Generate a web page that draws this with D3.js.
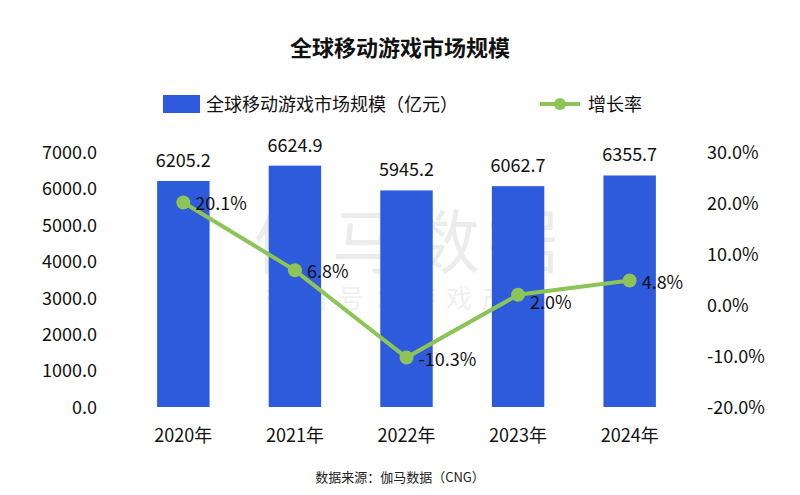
<!DOCTYPE html>
<html><head><meta charset="utf-8">
<script src="https://cdn.jsdelivr.net/npm/d3@7"></script>
<style>body{margin:0;background:#fff}text{font-family:"Noto Sans CJK SC","Noto Sans",sans-serif}</style>
</head><body><svg id="c" width="800" height="495"></svg>
<script>
// chart data
var years = ["2020年", "2021年", "2022年", "2023年", "2024年"];
var market = [6205.2, 6624.9, 5945.2, 6062.7, 6355.7];
var growth = [20.1, 6.8, -10.3, 2.0, 4.8];
var leftTicks = [0, 1000, 2000, 3000, 4000, 5000, 6000, 7000];
var rightTicks = [-20, -10, 0, 10, 20, 30];

var svg = d3.select("#c");
var blue = "#2e5bdc", green = "#8dc456";

var x = d3.scaleBand().domain(years).range([127, 686]).paddingInner(0.53).paddingOuter(0.27);
var yL = d3.scaleLinear().domain([0, 7000]).range([407, 152]);
var yR = d3.scaleLinear().domain([-20, 30]).range([407, 152]);

svg.append("text").attr("x", 400).attr("y", 56).attr("text-anchor", "middle")
    .attr("font-size", 22).attr("font-weight", "bold").attr("fill", "#111").text("全球移动游戏市场规模");

// watermark
svg.append("text").attr("x", 410).attr("y", 268).attr("text-anchor", "middle")
    .attr("font-size", 70).attr("fill", "#000").attr("opacity", 0.07).attr("letter-spacing", 8).text("伽马数据");
svg.append("text").attr("x", 410).attr("y", 308).attr("text-anchor", "middle")
    .attr("font-size", 26).attr("fill", "#000").attr("opacity", 0.06).attr("letter-spacing", 10).text("微信号：游戏产业");

// legend
svg.append("rect").attr("x", 163).attr("y", 95).attr("width", 37).attr("height", 18).attr("fill", blue);
svg.append("text").attr("x", 206).attr("y", 111).attr("font-size", 18).attr("fill", "#111").text("全球移动游戏市场规模（亿元）");
svg.append("line").attr("x1", 540).attr("x2", 580).attr("y1", 104).attr("y2", 104).attr("stroke", green).attr("stroke-width", 4);
svg.append("circle").attr("cx", 560).attr("cy", 104).attr("r", 6).attr("fill", green);
svg.append("text").attr("x", 588).attr("y", 111).attr("font-size", 18).attr("fill", "#111").text("增长率");

// axes
var axL = svg.append("g").attr("transform", "translate(100,0)")
    .call(d3.axisLeft(yL).tickValues(leftTicks).tickFormat(d3.format(".1f")).tickSize(0));
var axR = svg.append("g").attr("transform", "translate(704,0)")
    .call(d3.axisRight(yR).tickValues(rightTicks).tickFormat(function(d){ return d.toFixed(1) + "%"; }).tickSize(0));
var axB = svg.append("g").attr("transform", "translate(0,407)")
    .call(d3.axisBottom(x).tickSize(0).tickPadding(22));
[axL, axR, axB].forEach(function(a){
    a.select(".domain").remove();
    a.selectAll("text").attr("font-size", 18).attr("fill", "#111")
        .style("font-family", "'Noto Sans CJK SC','Noto Sans',sans-serif");
});
axL.selectAll("text").attr("dy", "0.35em");
axR.selectAll("text").attr("dy", "0.35em");

// bars
svg.selectAll(".bar").data(market).enter().append("rect")
    .attr("x", function(d, i){ return x(years[i]); })
    .attr("width", x.bandwidth())
    .attr("y", function(d){ return yL(d); })
    .attr("height", function(d){ return yL(0) - yL(d); })
    .attr("fill", blue);
svg.selectAll(".bl").data(market).enter().append("text")
    .attr("x", function(d, i){ return x(years[i]) + x.bandwidth() / 2; })
    .attr("y", function(d){ return yL(d) - 14; })
    .attr("text-anchor", "middle").attr("font-size", 18).attr("fill", "#111")
    .text(function(d){ return d.toFixed(1); });

// growth line
var cx = function(d, i){ return x(years[i]) + x.bandwidth() / 2; };
svg.append("path").datum(growth)
    .attr("d", d3.line().x(cx).y(function(d){ return yR(d); }))
    .attr("fill", "none").attr("stroke", green).attr("stroke-width", 4);
svg.selectAll(".pt").data(growth).enter().append("circle")
    .attr("cx", cx).attr("cy", function(d){ return yR(d); }).attr("r", 7).attr("fill", green);
var dy = [8, 8, 8, 14, 8];
svg.selectAll(".gl").data(growth).enter().append("text")
    .attr("x", function(d, i){ return cx(d, i) + 12; })
    .attr("y", function(d, i){ return yR(d) + dy[i]; })
    .attr("font-size", 18).attr("fill", "#111")
    .text(function(d){ return d.toFixed(1) + "%"; });

svg.append("text").attr("x", 400).attr("y", 482).attr("text-anchor", "middle")
    .attr("font-size", 13).attr("fill", "#222").text("数据来源：伽马数据（CNG）");
</script></body></html>
